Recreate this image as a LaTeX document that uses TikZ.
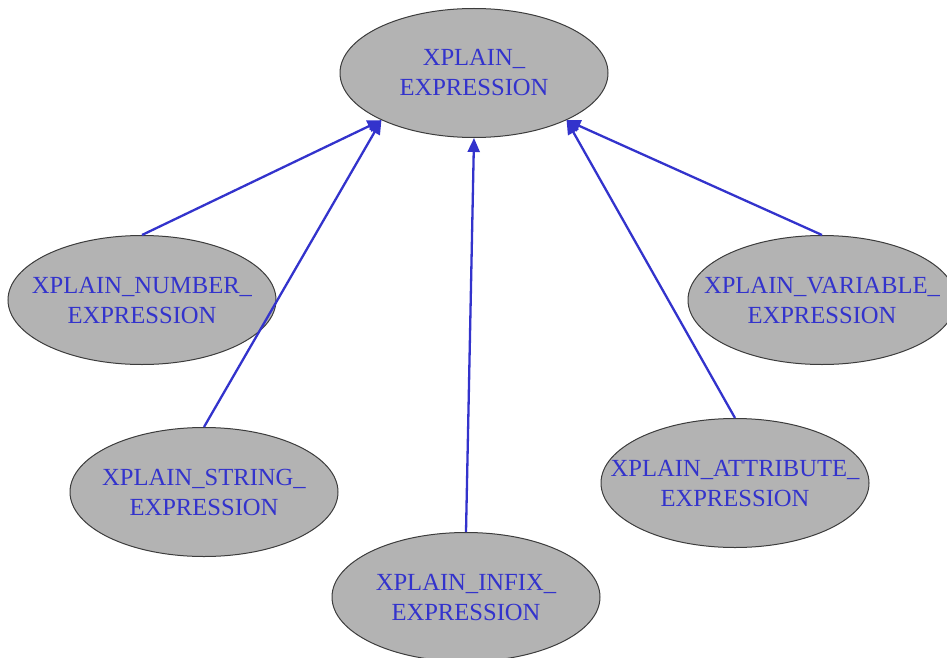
\documentclass[tikz,border=0pt]{standalone}
\usepackage{fontspec}
\setmainfont{Liberation Serif}
\usetikzlibrary{shapes.geometric,arrows.meta}
\definecolor{gvblue}{RGB}{51,51,204}
\definecolor{gvgray}{RGB}{179,179,179}
\definecolor{gvline}{RGB}{60,60,60}
\tikzset{
  cls/.style={ellipse, draw=gvline, line width=1pt, fill=gvgray, minimum width=268pt, minimum height=129pt, inner sep=0pt},
  lbl/.style={text=gvblue, align=center, inner sep=0pt, font=\fontsize{24.6}{30}\selectfont},
  inh/.style={draw=gvblue, line width=2.3pt, -{Triangle[length=14pt,width=12pt]}}
}
\begin{document}
\begin{tikzpicture}[x=1pt,y=-1pt]
\useasboundingbox (0,0) rectangle (947,658);
\node[cls] (top) at (474,73) {};
\node[cls] (num) at (142,300) {};
\node[cls] (var) at (822,300) {};
\node[cls] (str) at (204,492) {};
\node[cls] (att) at (735,483) {};
\node[cls] (inf) at (466,597) {};
\node[lbl] (toplbl) at (top) {XPLAIN\_\\EXPRESSION};
\node[lbl] (numlbl) at (num) {XPLAIN\_NUMBER\_\\EXPRESSION};
\node[lbl] (varlbl) at (var) {XPLAIN\_VARIABLE\_\\EXPRESSION};
\node[lbl] (strlbl) at (str) {XPLAIN\_STRING\_\\EXPRESSION};
\node[lbl] (attlbl) at (att) {XPLAIN\_ATTRIBUTE\_\\EXPRESSION};
\node[lbl] (inflbl) at (inf) {XPLAIN\_INFIX\_\\EXPRESSION};
\draw[inh] (num.north) -- (top.207);
\draw[inh] (str.north) -- (top.207);
\draw[inh] (inf.north) -- (top.south);
\draw[inh] (att.north) -- (top.333);
\draw[inh] (var.north) -- (top.333);
\end{tikzpicture}
\end{document}
